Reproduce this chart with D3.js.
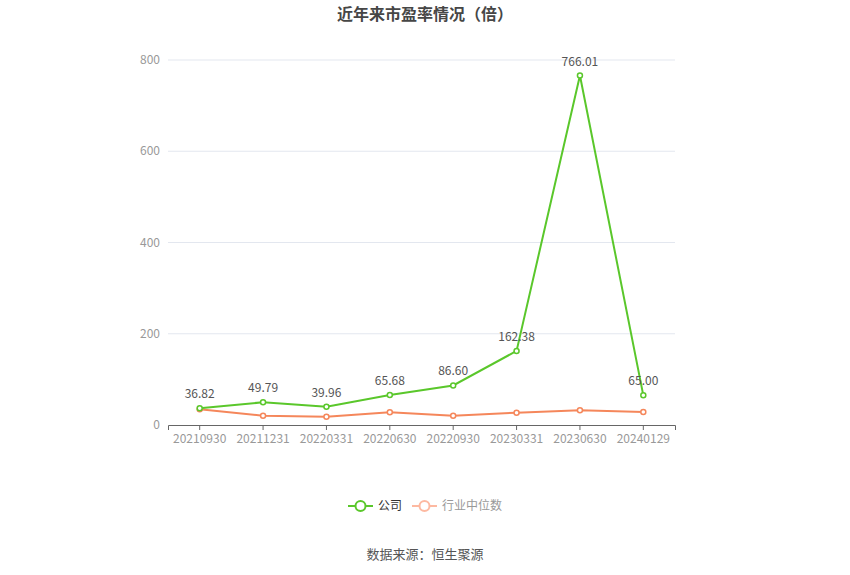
<!DOCTYPE html>
<html>
<head>
<meta charset="utf-8">
<script src="https://cdn.jsdelivr.net/npm/d3@7"></script>
<style>
  body { margin: 0; background: #fff; }
  text { font-family: "Noto Sans CJK SC", "Microsoft YaHei", sans-serif; }
</style>
</head>
<body>
<div id="vis"></div>
<script>
const dates = ["20210930", "20211231", "20220331", "20220630", "20220930", "20230331", "20230630", "20240129"];
const companyPE = [36.82, 49.79, 39.96, 65.68, 86.60, 162.38, 766.01, 65.00];
const industryPE = [34.4, 20.4, 18.3, 27.8, 20.4, 27.0, 32.2, 28.5];
const yTicks = [0, 200, 400, 600, 800];
const seriesNames = ["公司", "行业中位数"];

const green = "#5ac72b";
const orange = "#f5875b";

const svg = d3.select("#vis")
    .append("svg")
    .attr("width", 850)
    .attr("height", 575);

svg.append("text")
    .attr("x", 425)
    .attr("y", 20)
    .attr("text-anchor", "middle")
    .attr("font-size", 16)
    .attr("font-weight", "bold")
    .attr("fill", "#464646")
    .text("近年来市盈率情况（倍）");

const x = d3.scaleBand()
    .domain(dates)
    .range([168, 675]);

const y = d3.scaleLinear()
    .domain([0, 800])
    .range([425, 60]);

// grid lines
svg.append("g")
    .selectAll("line")
    .data(yTicks.filter(d => d > 0))
    .enter()
    .append("line")
    .attr("x1", 168)
    .attr("x2", 675)
    .attr("y1", d => y(d))
    .attr("y2", d => y(d))
    .attr("stroke", "#e3e7ef")
    .attr("stroke-width", 1);

// y axis labels
svg.append("g")
    .selectAll("text")
    .data(yTicks)
    .enter()
    .append("text")
    .attr("x", 160)
    .attr("y", d => y(d) + 4)
    .attr("text-anchor", "end")
    .attr("font-size", 12)
    .attr("fill", "#999")
    .text(d => d);

// x axis
const xAxis = svg.append("g")
    .attr("transform", "translate(0,425)")
    .call(d3.axisBottom(x).tickSize(5).tickPadding(4));
xAxis.select(".domain").attr("stroke", "#666");
xAxis.selectAll(".tick line").attr("stroke", "#666");
xAxis.selectAll(".tick text")
    .attr("font-size", 12)
    .attr("fill", "#999")
    .attr("font-family", "\"Noto Sans CJK SC\", sans-serif");

const cx = d => x(d) + x.bandwidth() / 2;

const line = d3.line()
    .x((d, i) => cx(dates[i]))
    .y(d => y(d));

function drawSeries(values, color) {
    svg.append("path")
        .datum(values)
        .attr("fill", "none")
        .attr("stroke", color)
        .attr("stroke-width", 2)
        .attr("d", line);
    svg.append("g")
        .selectAll("circle")
        .data(values)
        .enter()
        .append("circle")
        .attr("cx", (d, i) => cx(dates[i]))
        .attr("cy", d => y(d))
        .attr("r", 2.5)
        .attr("fill", "#fff")
        .attr("stroke", color)
        .attr("stroke-width", 1.5);
}

drawSeries(industryPE, orange);
drawSeries(companyPE, green);

// value labels for company
svg.append("g")
    .selectAll("text")
    .data(companyPE)
    .enter()
    .append("text")
    .attr("x", (d, i) => cx(dates[i]))
    .attr("y", d => y(d) - 10)
    .attr("text-anchor", "middle")
    .attr("font-size", 12)
    .attr("fill", "#555")
    .text(d => d.toFixed(2));

// legend
const legendItems = [
    { name: seriesNames[0], color: green, text: "#333", x: 348 },
    { name: seriesNames[1], color: "#fdb9a1", text: "#999", x: 412 }
];
const legend = svg.append("g");
legendItems.forEach(it => {
    const g = legend.append("g").attr("transform", `translate(${it.x},506)`);
    g.append("line")
        .attr("x1", 0).attr("x2", 25)
        .attr("stroke", it.color)
        .attr("stroke-width", 2);
    g.append("circle")
        .attr("cx", 12.5).attr("cy", 0).attr("r", 5)
        .attr("fill", "#fff")
        .attr("stroke", it.color)
        .attr("stroke-width", 2);
    g.append("text")
        .attr("x", 30).attr("y", 4)
        .attr("font-size", 12)
        .attr("fill", it.text)
        .text(it.name);
});

svg.append("text")
    .attr("x", 425)
    .attr("y", 559)
    .attr("text-anchor", "middle")
    .attr("font-size", 13)
    .attr("fill", "#555")
    .text("数据来源：恒生聚源");
</script>
</body>
</html>
